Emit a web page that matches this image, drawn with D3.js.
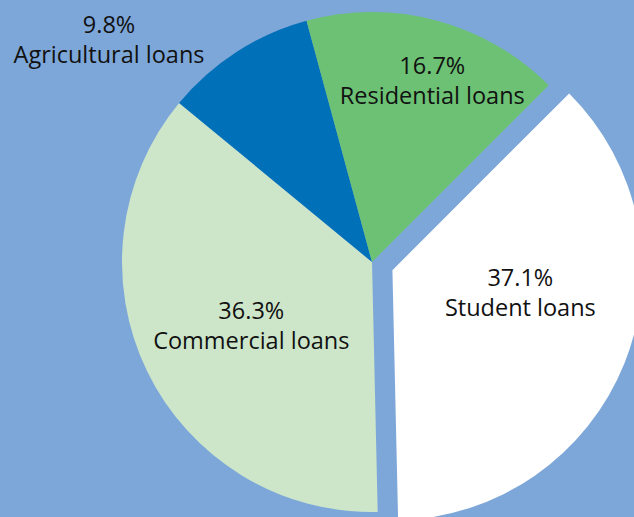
<!DOCTYPE html>
<html lang="en">
<head>
    <meta charset="UTF-8">
    <title>Loan portfolio</title>
    <script src="https://d3js.org/d3.v7.min.js"></script>
    <style>
        body { margin: 0; background: #7ea7d9; }
        svg { display: block; }
    </style>
</head>
<body>
    <script>
        // slices, clockwise from the upper right
        const categories = ["Student loans", "Commercial loans", "Agricultural loans", "Residential loans"];
        const shares = [37.1, 36.3, 9.8, 16.7];
        const colors = ["#ffffff", "#cde6ca", "#0070b9", "#6cc174"];
        const exploded = ["Student loans"];

        const width = 634;
        const height = 517;
        const cx = 372, cy = 262;
        const radius = 250;
        const explodeBy = 22;

        // label placement: [radius from centre, angle nudge in degrees]
        const labelPlace = {
            "Student loans": [136, -2],
            "Commercial loans": [149, -10],
            "Agricultural loans": [330, -20],
            "Residential loans": [169, 6]
        };

        const data = categories.map((c, i) => ({name: c, value: shares[i], color: colors[i]}));

        const svg = d3.select("body").append("svg")
            .attr("width", width)
            .attr("height", height);

        svg.append("rect")
            .attr("width", width)
            .attr("height", height)
            .attr("fill", "#7ea7d9");

        const pie = d3.pie()
            .sort(null)
            .value(d => d.value)
            .startAngle(Math.PI / 4)
            .endAngle(Math.PI / 4 + 2 * Math.PI);

        const arc = d3.arc().innerRadius(0).outerRadius(radius);

        const polar = (r, a) => [Math.sin(a) * r, -Math.cos(a) * r];

        const arcs = pie(data).map(d => {
            const mid = (d.startAngle + d.endAngle) / 2;
            d.offset = exploded.includes(d.data.name) ? polar(explodeBy, mid) : [0, 0];
            return d;
        });

        const g = svg.append("g").attr("transform", `translate(${cx},${cy})`);

        g.selectAll("path")
            .data(arcs)
            .join("path")
            .attr("transform", d => `translate(${d.offset})`)
            .attr("d", arc)
            .attr("fill", d => d.data.color);

        const labels = g.selectAll("text")
            .data(arcs)
            .join("text")
            .attr("transform", d => {
                const [r, nudge] = labelPlace[d.data.name];
                const mid = (d.startAngle + d.endAngle) / 2 + nudge * Math.PI / 180;
                const [x, y] = polar(r, mid);
                return `translate(${x + d.offset[0]},${y + d.offset[1]})`;
            })
            .attr("text-anchor", "middle")
            .attr("font-family", "'Open Sans', sans-serif")
            .attr("font-size", 23.5)
            .attr("fill", "#111");

        labels.append("tspan")
            .attr("x", 0)
            .attr("y", -30)
            .text(d => d.data.value.toFixed(1) + "%");

        labels.append("tspan")
            .attr("x", 0)
            .attr("y", 0)
            .text(d => d.data.name);
    </script>
</body>
</html>
